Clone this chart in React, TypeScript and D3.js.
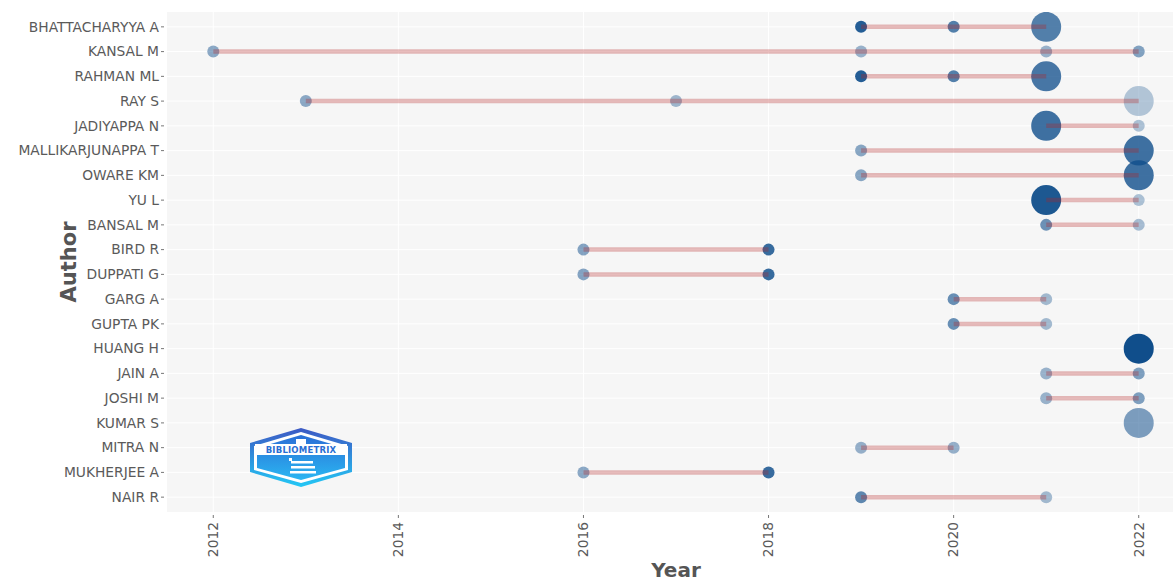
import React from "react";
import * as d3 from "d3";

const authors = [
  "BHATTACHARYYA A", "KANSAL M", "RAHMAN ML", "RAY S", "JADIYAPPA N",
  "MALLIKARJUNAPPA T", "OWARE KM", "YU L", "BANSAL M", "BIRD R",
  "DUPPATI G", "GARG A", "GUPTA PK", "HUANG H", "JAIN A",
  "JOSHI M", "KUMAR S", "MITRA N", "MUKHERJEE A", "NAIR R",
];

const xTicks = [2012, 2014, 2016, 2018, 2020, 2022];

// one entry per point
const ptAuthor = [
  "BHATTACHARYYA A", "BHATTACHARYYA A", "BHATTACHARYYA A",
  "KANSAL M", "KANSAL M", "KANSAL M", "KANSAL M",
  "RAHMAN ML", "RAHMAN ML", "RAHMAN ML",
  "RAY S", "RAY S", "RAY S",
  "JADIYAPPA N", "JADIYAPPA N",
  "MALLIKARJUNAPPA T", "MALLIKARJUNAPPA T",
  "OWARE KM", "OWARE KM",
  "YU L", "YU L",
  "BANSAL M", "BANSAL M",
  "BIRD R", "BIRD R",
  "DUPPATI G", "DUPPATI G",
  "GARG A", "GARG A",
  "GUPTA PK", "GUPTA PK",
  "HUANG H",
  "JAIN A", "JAIN A",
  "JOSHI M", "JOSHI M",
  "KUMAR S",
  "MITRA N", "MITRA N",
  "MUKHERJEE A", "MUKHERJEE A",
  "NAIR R", "NAIR R",
];
const ptYear = [
  2019, 2020, 2021,
  2012, 2019, 2021, 2022,
  2019, 2020, 2021,
  2013, 2017, 2022,
  2021, 2022,
  2019, 2022,
  2019, 2022,
  2021, 2022,
  2021, 2022,
  2016, 2018,
  2016, 2018,
  2020, 2021,
  2020, 2021,
  2022,
  2021, 2022,
  2021, 2022,
  2022,
  2019, 2020,
  2016, 2018,
  2019, 2021,
];
const ptArticles = [
  1, 1, 2,
  1, 1, 1, 1,
  1, 1, 2,
  1, 1, 2,
  2, 1,
  1, 2,
  1, 2,
  2, 1,
  1, 1,
  1, 1,
  1, 1,
  1, 1,
  1, 1,
  2,
  1, 1,
  1, 1,
  2,
  1, 1,
  1, 1,
  1, 1,
];
const ptTCperYear = [
  8.8, 5.9, 5.9,
  2.4, 1.6, 1.6, 3.0,
  8.8, 5.9, 6.6,
  2.4, 1.2, 0.0,
  7.2, 0.4,
  2.6, 7.2,
  2.6, 7.2,
  9.2, 0.4,
  4.4, 0.8,
  2.9, 7.6,
  2.9, 7.6,
  4.6, 1.0,
  4.6, 1.0,
  10.0,
  1.6, 3.2,
  1.6, 3.2,
  3.4,
  1.8, 1.8,
  2.4, 7.6,
  5.2, 1.0,
];

const W = 1173;
const H = 583;
const panel = { left: 167, top: 12, bottom: 512, right: 1185 };

export default function App() {
  const x = d3.scaleLinear().domain([2011.5, 2022.5]).range([panel.left, panel.right]);
  const y = d3
    .scalePoint<string>()
    .domain(authors)
    .range([panel.top, panel.bottom])
    .padding(0.6);
  const r = d3.scaleLinear().domain([1, 2]).range([6, 15]);
  const alpha = d3.scaleLinear().domain([0, 10]).range([0.3, 1]);

  const points = ptAuthor.map((a, i) => ({
    author: a,
    year: ptYear[i],
    n: ptArticles[i],
    tc: ptTCperYear[i],
  }));

  const segs = authors
    .map((a) => {
      const ys = points.filter((p) => p.author === a).map((p) => p.year);
      return { author: a, min: d3.min(ys)!, max: d3.max(ys)! };
    })
    .filter((s) => s.max > s.min);

  const font = "'DejaVu Sans', Verdana, sans-serif";

  return (
    <div style={{ position: "fixed", left: 0, top: 0, width: W, height: H, overflow: "hidden", background: "#fff" }}>
      <svg width={W} height={H} style={{ display: "block" }}>
        <defs>
          <linearGradient id="logoBorder" x1="0" y1="0" x2="0" y2="1">
            <stop offset="0" stopColor="#3d59c4" />
            <stop offset="1" stopColor="#23c8f5" />
          </linearGradient>
          <linearGradient id="logoFill" x1="0" y1="0" x2="0" y2="1">
            <stop offset="0" stopColor="#2c6fd6" />
            <stop offset="1" stopColor="#2ab6f2" />
          </linearGradient>
          <clipPath id="panelClip">
            <rect x={panel.left} y={panel.top} width={panel.right - panel.left} height={panel.bottom - panel.top} />
          </clipPath>
        </defs>
        <rect x={panel.left} y={panel.top} width={panel.right - panel.left} height={panel.bottom - panel.top} fill="#f6f6f6" />
        {authors.map((a) => (
          <line key={"hg" + a} x1={panel.left} x2={panel.right} y1={y(a)} y2={y(a)} stroke="#ffffff" strokeWidth={1} />
        ))}
        {xTicks.map((t) => (
          <line key={"vg" + t} x1={x(t)} x2={x(t)} y1={panel.top} y2={panel.bottom} stroke="#ffffff" strokeWidth={1} />
        ))}

        {/* logo */}
        <g>
          <polygon
            points="301,428 352,443 352,472 301,487 250,472 250,443"
            fill="url(#logoBorder)"
          />
          <polygon
            points="301,432 348,446 348,470 301,483 254,470 254,446"
            fill="#ffffff"
          />
          <polygon
            points="301,435 345,448 345,468 301,480 257,468 257,448"
            fill="url(#logoFill)"
          />
          <rect x={255} y={444} width={92} height={11} fill="#ffffff" />
          <text x={301} y={453} textAnchor="middle" fontFamily={font} fontWeight="bold" fontSize={8.5} fill="#2a6fd3" letterSpacing={0.2}>
            BIBLIOMETRIX
          </text>
          <rect x={296} y={439} width={10} height={5} fill="#ffffff" />
          <rect x={289} y={458} width={3} height={3} fill="#ffffff" />
          <rect x={291} y={461} width={22} height={2.5} fill="#ffffff" />
          <rect x={291} y={466} width={24} height={2.5} fill="#ffffff" />
          <rect x={290} y={471} width={26} height={2.5} fill="#ffffff" />
        </g>

        <g clipPath="url(#panelClip)">
          {points.map((p, i) => (
            <circle
              key={"pt" + i}
              cx={x(p.year)}
              cy={y(p.author)}
              r={r(p.n)}
              fill="#104E8B"
              fillOpacity={alpha(p.tc)}
            />
          ))}
          {segs.map((s) => (
            <line
              key={"sg" + s.author}
              x1={x(s.min)}
              x2={x(s.max)}
              y1={y(s.author)}
              y2={y(s.author)}
              stroke="#B22222"
              strokeOpacity={0.3}
              strokeWidth={4.5}
            />
          ))}
        </g>

        {/* y axis */}
        {authors.map((a) => (
          <g key={"yl" + a}>
            <line x1={panel.left - 6} x2={panel.left - 3} y1={y(a)} y2={y(a)} stroke="#777" strokeWidth={1} />
            <text x={panel.left - 8} y={y(a)} dy="0.35em" textAnchor="end" fontFamily={font} fontSize={13.8} fill="#5a5a5a">
              {a}
            </text>
          </g>
        ))}
        {/* x axis */}
        {xTicks.map((t) => (
          <g key={"xl" + t}>
            <line x1={x(t)} x2={x(t)} y1={panel.bottom + 3} y2={panel.bottom + 6} stroke="#777" strokeWidth={1} />
            <text
              transform={`translate(${x(t)},${panel.bottom + 10}) rotate(-90)`}
              dy="0.35em"
              textAnchor="end"
              fontFamily={font}
              fontSize={13.8}
              fill="#5a5a5a"
            >
              {t}
            </text>
          </g>
        ))}
        <text
          transform={`translate(76,262) rotate(-90)`}
          textAnchor="middle"
          fontFamily={font}
          fontWeight="bold"
          fontSize={21}
          fill="#555"
        >
          Author
        </text>
        <text x={676} y={577} textAnchor="middle" fontFamily={font} fontWeight="bold" fontSize={20} fill="#555">
          Year
        </text>
      </svg>
    </div>
  );
}
